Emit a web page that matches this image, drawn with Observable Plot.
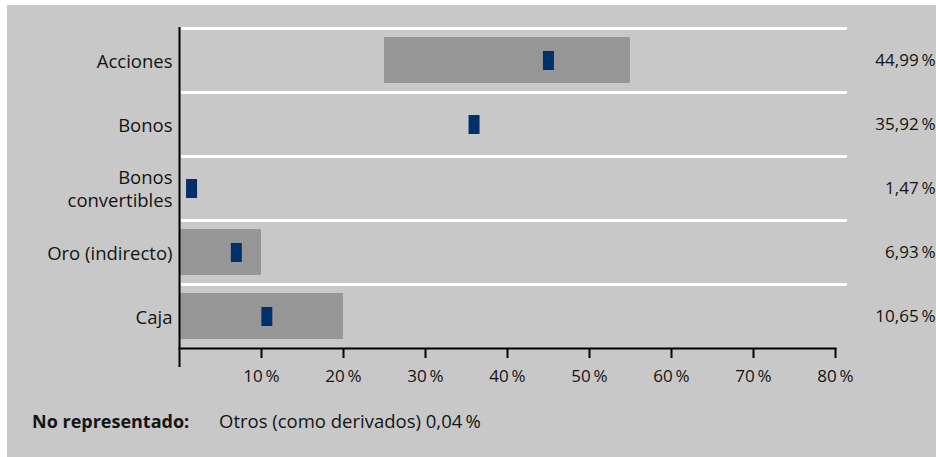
<!DOCTYPE html>
<html><head><meta charset="utf-8">
<script src="https://cdn.jsdelivr.net/npm/d3@7"></script>
<script src="https://cdn.jsdelivr.net/npm/@observablehq/plot@0.6"></script>
<style>
html,body{margin:0;padding:0;background:#fff;}
#wrap{position:absolute;left:7px;top:5px;width:929px;height:452px;background:#c8c8c8;font-family:"Open Sans",sans-serif;color:#141414;overflow:hidden;}
#chart svg{display:block;}
.note{position:absolute;top:406px;font-size:18.5px;line-height:20px;white-space:nowrap;}
</style></head><body>
<div id="wrap"><div id="chart"></div>
<div class="note" id="noteLabel" style="left:25px;font-weight:bold;font-size:18px;"></div>
<div class="note" id="noteText" style="left:212px;"></div>
</div>
<script>
const categories = ["Acciones", "Bonos", "Bonos convertibles", "Oro (indirecto)", "Caja"];
const categoryLabels = ["Acciones", "Bonos", "Bonos\nconvertibles", "Oro (indirecto)", "Caja"];
const values = [44.99, 35.92, 1.47, 6.93, 10.65];
const rangeMin = [25, null, null, 0, 0];
const rangeMax = [55, null, null, 10, 20];
const xTicks = [10, 20, 30, 40, 50, 60, 70, 80];
const noteLabel = "No representado:";
const noteText = "Otros (como derivados) 0,04\u2009%";

const fmt = v => v.toFixed(2).replace(".", ",") + "\u2009%";
const rows = categories.map((c, i) => ({cat: c, v: values[i], lo: rangeMin[i], hi: rangeMax[i]}));

const chart = Plot.plot({
  width: 929,
  height: 390,
  marginLeft: 172,
  marginRight: 101,
  marginTop: 23,
  marginBottom: 47,
  style: {background: "transparent", fontFamily: "'Open Sans', sans-serif", fontSize: "17px", color: "#141414", overflow: "visible"},
  x: {domain: [0, 80], label: null},
  y: {domain: categories, padding: 0, label: null},
  marks: [
    Plot.ruleY(categories, {y: d => d, dy: -32, stroke: "#ffffff", strokeWidth: 3, insetLeft: 2, insetRight: -12}),
    Plot.barX(rows.filter(d => d.lo != null), {y: "cat", x1: "lo", x2: "hi", fill: "#969696", insetTop: 9, insetBottom: 9}),
    Plot.tickX(rows, {y: "cat", x: "v", stroke: "#00306a", strokeWidth: 11, insetTop: 23, insetBottom: 22}),
    Plot.frame({anchor: "bottom", stroke: "#000", strokeWidth: 2}),
    Plot.ruleX([0], {stroke: "#000", strokeWidth: 2, insetTop: -1, insetBottom: -19}),
    Plot.axisX({ticks: xTicks, tickFormat: d => d + "\u2009%", tickSize: 10, tickPadding: 11, strokeWidth: 2, stroke: "#000", fill: "#141414", fontSize: 17, label: null}),
    Plot.axisY({tickSize: 0, tickPadding: 7, tickFormat: d => categoryLabels[categories.indexOf(d)], lineHeight: 1.25, fill: "#141414", fontSize: 18.5, label: null}),
    Plot.text(rows, {y: "cat", text: d => fmt(d.v), frameAnchor: "right", textAnchor: "end", dx: 100, fill: "#141414", fontSize: 17})
  ]
});
document.getElementById("chart").appendChild(chart);
document.getElementById("noteLabel").textContent = noteLabel;
document.getElementById("noteText").textContent = noteText;
</script>
</body></html>
